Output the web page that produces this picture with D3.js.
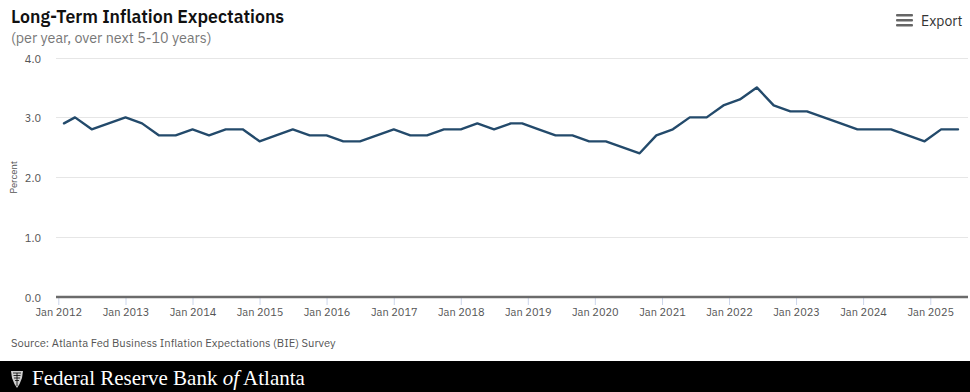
<!DOCTYPE html>
<html>
<head>
<meta charset="utf-8">
<script src="https://cdn.jsdelivr.net/npm/d3@7"></script>
<style>
  html, body { margin: 0; padding: 0; background: #fff; }
  svg { display: block; }
</style>
</head>
<body>
<svg id="chart" width="970" height="392"></svg>
<script>
// ---- Data ----
const dates = [
  "2012-02","2012-04","2012-07","2012-10",
  "2013-01","2013-04","2013-07","2013-10",
  "2014-01","2014-04","2014-07","2014-10",
  "2015-01","2015-04","2015-07","2015-10",
  "2016-01","2016-04","2016-07","2016-10",
  "2017-01","2017-04","2017-07","2017-10",
  "2018-01","2018-04","2018-07","2018-10","2018-12",
  "2019-03","2019-06","2019-09","2019-12",
  "2020-03","2020-06","2020-09","2020-12",
  "2021-03","2021-06","2021-09","2021-12",
  "2022-03","2022-06","2022-09","2022-12",
  "2023-03","2023-06","2023-09","2023-12",
  "2024-03","2024-06","2024-09","2024-12",
  "2025-03","2025-06"
];
const values = [
  2.9,3.0,2.8,2.9,
  3.0,2.9,2.7,2.7,
  2.8,2.7,2.8,2.8,
  2.6,2.7,2.8,2.7,
  2.7,2.6,2.6,2.7,
  2.8,2.7,2.7,2.8,
  2.8,2.9,2.8,2.9,2.9,
  2.8,2.7,2.7,2.6,
  2.6,2.5,2.4,2.7,
  2.8,3.0,3.0,3.2,
  3.3,3.5,3.2,3.1,
  3.1,3.0,2.9,2.8,
  2.8,2.8,2.7,2.6,
  2.8,2.8
];
const yTicks = [0, 1, 2, 3, 4];
const xTickYears = [2012,2013,2014,2015,2016,2017,2018,2019,2020,2021,2022,2023,2024,2025];

const title = "Long-Term Inflation Expectations";
const subtitle = "(per year, over next 5-10 years)";
const yTitle = "Percent";
const source = "Source: Atlanta Fed Business Inflation Expectations (BIE) Survey";

// ---- Layout ----
const svg = d3.select("#chart");
const W = 970, H = 392;
const plotLeft = 56, plotRight = 968, plotTop = 57.5, plotBottom = 297;
const parse = d3.timeParse("%Y-%m");
const data = dates.map((d, i) => ({ date: parse(d), value: values[i] }));

const x0 = d3.scaleTime()
  .domain([new Date(2012, 0, 1), new Date(2025, 0, 1)])
  .range([58.3, 930.3]);
const x = d3.scaleTime()
  .domain([x0.invert(plotLeft), x0.invert(plotRight)])
  .range([plotLeft, plotRight]);
const y = d3.scaleLinear().domain([0, 4]).range([plotBottom, plotTop]);

const fontMain = "'IBM Plex Sans', 'Open Sans', 'Noto Sans', sans-serif";

// gridlines
svg.append("g").selectAll("line").data(yTicks.filter(v => v > 0)).join("line")
  .attr("x1", plotLeft).attr("x2", plotRight)
  .attr("y1", d => Math.round(y(d)) + 0.5).attr("y2", d => Math.round(y(d)) + 0.5)
  .attr("stroke", "#e6e6e6").attr("stroke-width", 1);

// y labels
svg.append("g").selectAll("text").data(yTicks).join("text")
  .attr("x", 41).attr("y", d => y(d) + 5)
  .attr("text-anchor", "end")
  .attr("font-family", fontMain).attr("font-size", 11)
  .attr("fill", "#555")
  .text(d => d.toFixed(1));

// y title
svg.append("text")
  .attr("transform", `translate(17,${(plotTop + plotBottom) / 2}) rotate(-90)`)
  .attr("text-anchor", "middle")
  .attr("font-family", fontMain).attr("font-size", 9.5)
  .attr("fill", "#555")
  .text(yTitle);

// x axis
const xAxis = d3.axisBottom(x)
  .tickValues(xTickYears.map(yv => new Date(yv, 0, 1)))
  .tickFormat(d3.timeFormat("Jan %Y"))
  .tickSize(8).tickSizeOuter(0);
const gx = svg.append("g").attr("transform", `translate(0,${plotBottom})`).call(xAxis);
gx.select(".domain").remove();
gx.selectAll(".tick line").attr("stroke", "#ccd6eb").attr("stroke-width", 1);
gx.selectAll(".tick text")
  .attr("y", 11)
  .attr("font-family", fontMain).attr("font-size", 11)
  .attr("fill", "#555");
svg.append("line")
  .attr("x1", plotLeft).attr("x2", plotRight)
  .attr("y1", plotBottom).attr("y2", plotBottom)
  .attr("stroke", "#6b6b6b").attr("stroke-width", 2.5);

// line
const line = d3.line().x(d => x(d.date)).y(d => y(d.value));
svg.append("path").datum(data)
  .attr("d", line)
  .attr("fill", "none")
  .attr("stroke", "#234a6b")
  .attr("stroke-width", 2.4)
  .attr("stroke-linejoin", "round")
  .attr("stroke-linecap", "round");

// titles
svg.append("text").attr("x", 11).attr("y", 23)
  .attr("font-family", fontMain).attr("font-size", 17.7).attr("font-weight", 600)
  .attr("fill", "#111").text(title);
svg.append("text").attr("x", 11).attr("y", 43)
  .attr("font-family", fontMain).attr("font-size", 14.3)
  .attr("fill", "#777").text(subtitle);

// export button
const eg = svg.append("g");
[0, 5, 10].forEach(o => {
  eg.append("rect").attr("x", 896).attr("y", 14 + o).attr("width", 17).attr("height", 2.6)
    .attr("rx", 1).attr("fill", "#666");
});
eg.append("text").attr("x", 921).attr("y", 26)
  .attr("font-family", fontMain).attr("font-size", 14)
  .attr("fill", "#333").text("Export");

// source
svg.append("text").attr("x", 11).attr("y", 347)
  .attr("font-family", fontMain).attr("font-size", 11.2)
  .attr("fill", "#555").text(source);

// footer
svg.append("rect").attr("x", 0).attr("y", 361).attr("width", W).attr("height", H - 361).attr("fill", "#000");
svg.append("path")
  .attr("d", "M11,371 L23,371 L22,378 Q20,384 17,388 Q14,384 12,378 Z")
  .attr("fill", "#cfcfcf");
svg.append("path")
  .attr("d", "M13,373 L21,373 M13.5,375.5 L20.5,375.5 M14,378 L20,378 M15,380.5 L19,380.5 M17,373 L17,386")
  .attr("stroke", "#000").attr("stroke-width", 0.8);
const ft = svg.append("text").attr("x", 32).attr("y", 385)
  .attr("font-family", "'Liberation Serif', 'Times New Roman', serif").attr("font-size", 21)
  .attr("fill", "#fff");
ft.append("tspan").text("Federal Reserve Bank ");
ft.append("tspan").attr("font-style", "italic").text("of");
ft.append("tspan").text(" Atlanta");
</script>
</body>
</html>
